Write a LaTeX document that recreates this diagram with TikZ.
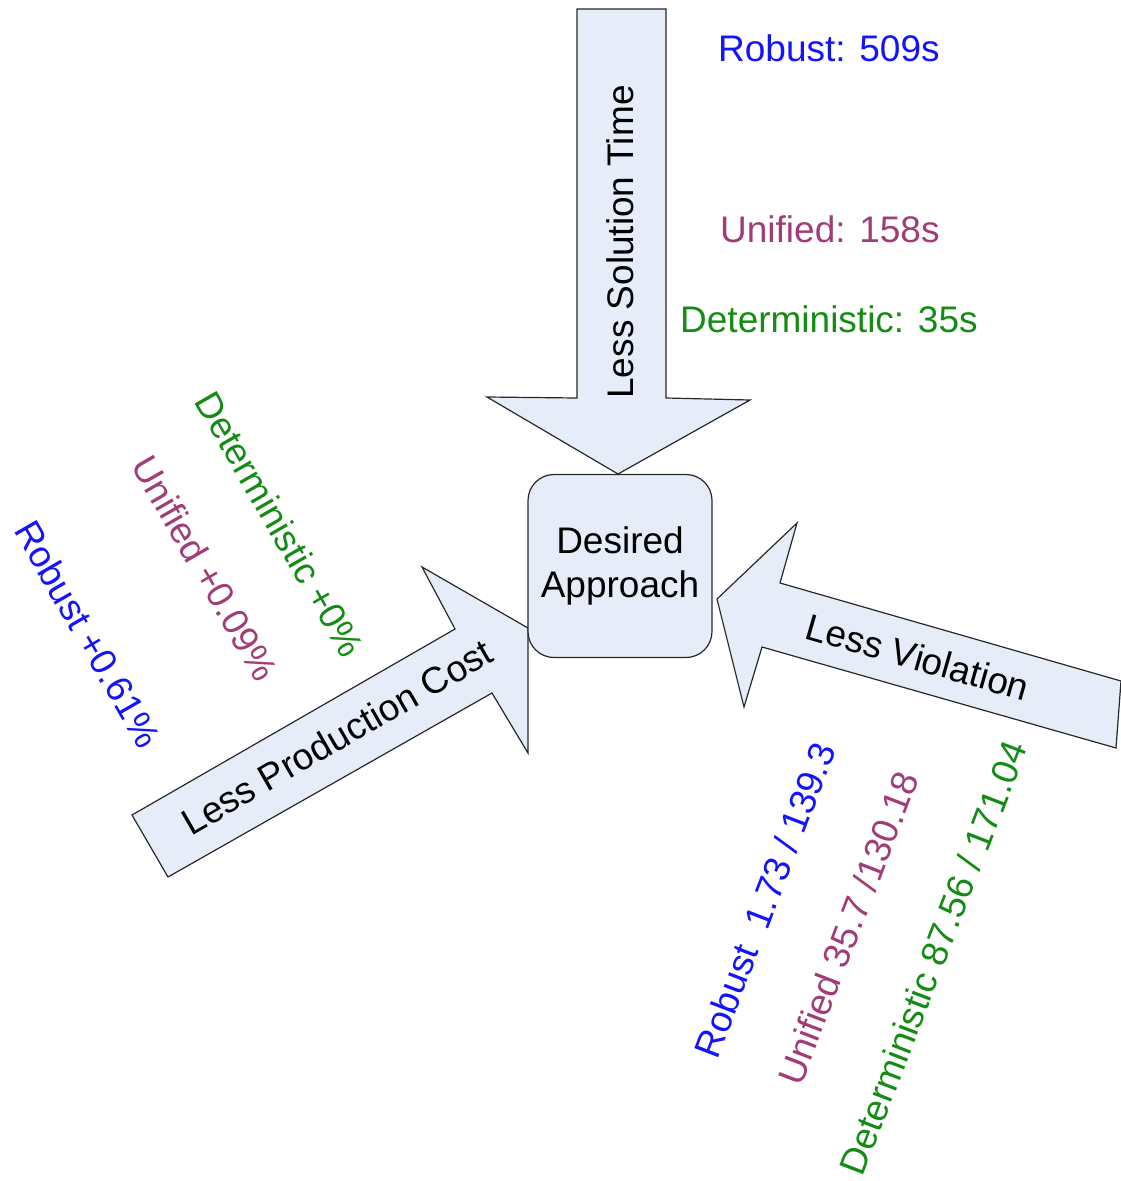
\documentclass[tikz,border=0pt]{standalone}
\usepackage{fontspec}
\setmainfont{Liberation Sans}
\definecolor{fillblue}{RGB}{230,236,248}
\definecolor{edgegray}{RGB}{40,40,40}
\definecolor{robblue}{RGB}{20,20,250}
\definecolor{unimaroon}{RGB}{160,60,120}
\definecolor{detgreen}{RGB}{20,140,20}
\begin{document}
\begin{tikzpicture}[x=1pt,y=-1pt,
  blockarrow/.style={fill=fillblue,draw=edgegray,line width=1.2pt,line join=miter},
  lbl/.style={font=\fontsize{37}{44}\selectfont,inner sep=0pt},
  rob/.style={lbl,text=robblue},
  uni/.style={lbl,text=unimaroon},
  det/.style={lbl,text=detgreen}]
\useasboundingbox (0,0) rectangle (1120,1181);

% top arrow: Less Solution Time
\draw[blockarrow] (577,9) -- (666,9) -- (666,398) -- (750,400) -- (618,474)
  -- (487,397) -- (577,398) -- cycle;
% left arrow: Less Production Cost
\draw[blockarrow] (132,815) -- (455,629) -- (422,567) -- (528,628)
  -- (528,753) -- (492,693) -- (168,877) -- cycle;
% right arrow: Less Violation
\draw[blockarrow] (1121,681) -- (780,583) -- (797,523) -- (717,599)
  -- (744,707) -- (762,647) -- (1116,748) -- cycle;

% central box
\node[draw=edgegray,fill=fillblue,line width=1.2pt,rounded corners=26pt,
  minimum width=184pt,minimum height=183pt,inner sep=0pt,align=center,
  font=\fontsize{37}{44}\selectfont] (box) at (620,566) {Desired\\Approach};

% arrow labels
\node[lbl,rotate=90] (tlab) at (620,242) {Less Solution Time};
\node[lbl,rotate=30] (llab) at (337,737) {Less Production Cost};
\node[lbl,rotate=-16] (rlab) at (918,657) {Less Violation};

% solution time values
\node[rob,anchor=west] (rt) at (718,48) {Robust: 509s};
\node[uni,anchor=west] (ut) at (720,229) {Unified: 158s};
\node[det,anchor=west] (dt) at (680,319) {Deterministic: 35s};

% production cost values
\node[det,rotate=-60] (dc) at (280,524) {Deterministic +0\%};
\node[uni,rotate=-60] (uc) at (205,568) {Unified +0.09\%};
\node[rob,rotate=-60] (rc) at (88,634) {Robust +0.61\%};

% violation values
\node[rob,rotate=69] (rv) at (765,900) {Robust\ \ 1.73 / 139.3};
\node[uni,rotate=69] (uv) at (848,928) {Unified 35.7 /130.18};
\node[det,rotate=69] (dv) at (933,958) {Deterministic 87.56 / 171.04};
\end{tikzpicture}
\end{document}
